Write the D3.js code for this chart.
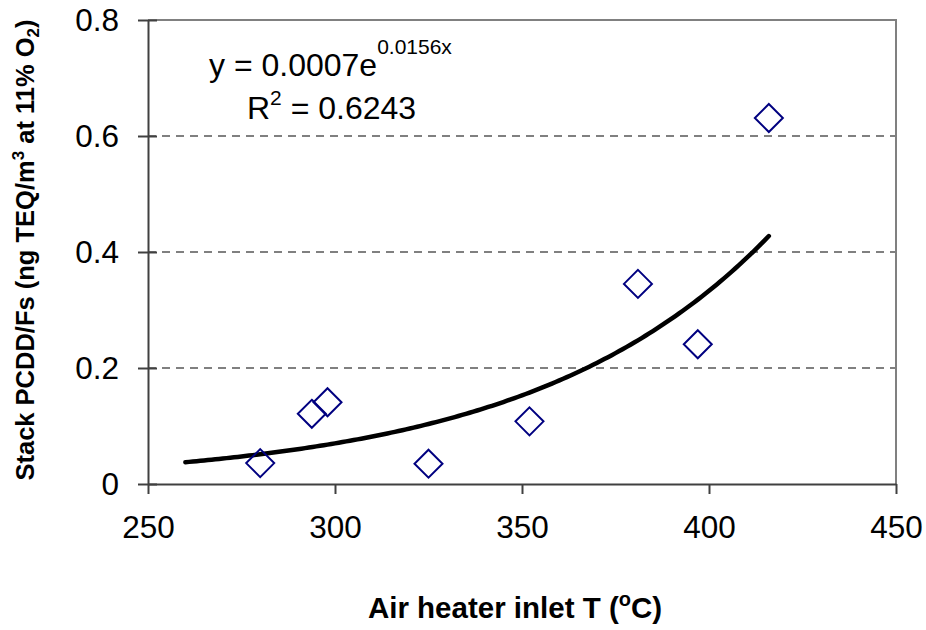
<!DOCTYPE html>
<html>
<head>
<meta charset="utf-8">
<script src="https://cdn.jsdelivr.net/npm/d3@7"></script>
<style>
  body { margin: 0; background: #fff; }
  svg { font-family: Arial, "Liberation Sans", sans-serif; }
</style>
</head>
<body>
<svg id="chart" width="926" height="630"></svg>
<script>
// measured points: air heater inlet T vs stack PCDD/Fs
var inletT = [280, 293.8, 298, 325, 352, 381, 397, 416];
var pcdd   = [0.036, 0.121, 0.141, 0.035, 0.108, 0.345, 0.241, 0.631];
var xTicks = [250, 300, 350, 400, 450];
var yTicks = [0, 0.2, 0.4, 0.6, 0.8];
var backForecast = 20; // trendline extended backwards, like Excel

var svg = d3.select('#chart');
var margin = { left: 148, right: 30, top: 20, bottom: 146 };
var width = 926 - margin.left - margin.right,
    height = 630 - margin.top - margin.bottom;

var xScale = d3.scaleLinear().domain([250, 450]).range([margin.left, margin.left + width]);
var yScale = d3.scaleLinear().domain([0, 0.8]).range([margin.top + height, margin.top]);

var points = inletT.map(function (t, i) { return { x: t, y: pcdd[i] }; });

// exponential least squares fit on ln(y)
var fit = (function () {
    var mx = d3.mean(points, function (d) { return d.x; });
    var my = d3.mean(points, function (d) { return Math.log(d.y); });
    var sxy = 0, sxx = 0;
    points.forEach(function (d) {
        sxy += (d.x - mx) * (Math.log(d.y) - my);
        sxx += (d.x - mx) * (d.x - mx);
    });
    var b = sxy / sxx;
    return { a: Math.exp(my - b * mx), b: b };
})();

var g = svg.append('g');

// gridlines
g.selectAll('.grid')
    .data(yTicks.filter(function (v) { return v > 0 && v < 0.8; }))
    .enter().append('line')
    .attr('class', 'grid')
    .attr('x1', xScale(250)).attr('x2', xScale(450))
    .attr('y1', function (d) { return yScale(d); })
    .attr('y2', function (d) { return yScale(d); })
    .attr('stroke', '#808080')
    .attr('stroke-width', 2)
    .attr('stroke-dasharray', '8,6');

// top & right frame
g.append('path')
    .attr('d', 'M' + xScale(250) + ',' + yScale(0.8) + 'H' + xScale(450) + 'V' + yScale(0))
    .attr('fill', 'none')
    .attr('stroke', '#808080')
    .attr('stroke-width', 2);

// x axis
var xAxis = d3.axisBottom(xScale).tickValues(xTicks).tickSizeInner(10).tickSizeOuter(0).tickPadding(22);
var gx = g.append('g').attr('transform', 'translate(0,' + yScale(0) + ')').call(xAxis);
gx.select('.domain').attr('stroke', '#404040').attr('stroke-width', 2);
gx.selectAll('.tick line').attr('stroke', '#404040').attr('stroke-width', 2);
gx.selectAll('.tick text').attr('font-size', 31.5).attr('fill', '#000');

// y axis, ticks cross the line
var yAxis = d3.axisLeft(yScale).tickValues(yTicks).tickSizeInner(10).tickSizeOuter(0).tickPadding(19)
    .tickFormat(function (d) { return d === 0 ? '0' : d3.format('.1f')(d); });
var gy = g.append('g').attr('transform', 'translate(' + xScale(250) + ',0)').call(yAxis);
gy.select('.domain').attr('stroke', '#404040').attr('stroke-width', 2);
gy.selectAll('.tick line').attr('x1', 9).attr('x2', -10).attr('stroke', '#404040').attr('stroke-width', 2);
gy.selectAll('.tick text').attr('font-size', 31.5).attr('fill', '#000');

// trendline
var tMin = d3.min(inletT) - backForecast, tMax = d3.max(inletT);
var curve = d3.range(tMin, tMax + 0.001, 1).map(function (t) {
    return { x: t, y: fit.a * Math.exp(fit.b * t) };
});
var line = d3.line()
    .x(function (d) { return xScale(d.x); })
    .y(function (d) { return yScale(d.y); });
g.append('path')
    .datum(curve)
    .attr('d', line)
    .attr('fill', 'none')
    .attr('stroke', '#000')
    .attr('stroke-width', 4.5)
    .attr('stroke-linecap', 'round');

// diamonds
var r = 14;
g.selectAll('.pt')
    .data(points)
    .enter().append('path')
    .attr('class', 'pt')
    .attr('d', function (d) {
        var cx = xScale(d.x), cy = yScale(d.y);
        return 'M' + cx + ',' + (cy - r) + 'L' + (cx + r) + ',' + cy +
               'L' + cx + ',' + (cy + r) + 'L' + (cx - r) + ',' + cy + 'Z';
    })
    .attr('fill', 'none')
    .attr('stroke', '#000080')
    .attr('stroke-width', 2);

// equation labels
var eq = g.append('text').attr('x', 209).attr('y', 76).attr('font-size', 32);
eq.append('tspan').text('y = 0.0007e');
eq.append('tspan').attr('dy', -22).attr('font-size', 21).text('0.0156x');

var r2 = g.append('text').attr('x', 247).attr('y', 119).attr('font-size', 32);
r2.append('tspan').text('R');
r2.append('tspan').attr('dy', -14).attr('font-size', 21).text('2');
r2.append('tspan').attr('dy', 14).text(' = 0.6243');

// axis titles
var xt = g.append('text')
    .attr('x', 515).attr('y', 618)
    .attr('text-anchor', 'middle')
    .attr('font-size', 29.5).attr('font-weight', 'bold');
xt.append('tspan').text('Air heater inlet T (');
xt.append('tspan').attr('dy', -12).attr('font-size', 20).text('o');
xt.append('tspan').attr('dy', 12).text('C)');

var yt = g.append('text')
    .attr('transform', 'translate(34,250) rotate(-90)')
    .attr('text-anchor', 'middle')
    .attr('font-size', 25.5).attr('font-weight', 'bold');
yt.append('tspan').text('Stack PCDD/Fs (ng TEQ/m');
yt.append('tspan').attr('dy', -10).attr('font-size', 17).text('3');
yt.append('tspan').attr('dy', 10).text(' at 11% O');
yt.append('tspan').attr('dy', 5).attr('font-size', 17).text('2');
yt.append('tspan').attr('dy', -5).text(')');
</script>
</body>
</html>
